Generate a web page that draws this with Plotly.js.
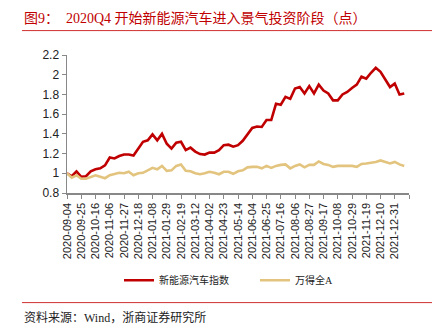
<!DOCTYPE html>
<html>
<head>
<meta charset="utf-8">
<script src="https://cdn.plot.ly/plotly-3.0.1.min.js"></script>
<style>
html,body{margin:0;padding:0;background:#fff;}
#chart{width:440px;height:332px;}
</style>
</head>
<body>
<div id="chart"></div>
<script>
const dates = [
"2020-09-04","2020-09-11","2020-09-18","2020-09-25","2020-10-02","2020-10-09","2020-10-16","2020-10-23","2020-10-30",
"2020-11-06","2020-11-13","2020-11-20","2020-11-27","2020-12-04","2020-12-11","2020-12-18","2020-12-25",
"2021-01-01","2021-01-08","2021-01-15","2021-01-22","2021-01-29","2021-02-05","2021-02-12","2021-02-19","2021-02-26",
"2021-03-05","2021-03-12","2021-03-19","2021-03-26","2021-04-02","2021-04-09","2021-04-16","2021-04-23","2021-04-30",
"2021-05-07","2021-05-14","2021-05-21","2021-05-28","2021-06-04","2021-06-11","2021-06-18","2021-06-25",
"2021-07-02","2021-07-09","2021-07-16","2021-07-23","2021-07-30","2021-08-06","2021-08-13","2021-08-20","2021-08-27",
"2021-09-03","2021-09-10","2021-09-17","2021-09-24","2021-10-01","2021-10-08","2021-10-15","2021-10-22","2021-10-29",
"2021-11-05","2021-11-12","2021-11-19","2021-11-26","2021-12-03","2021-12-10","2021-12-17","2021-12-24","2021-12-31",
"2022-01-07","2022-01-14"
];
const nevIndex = [
1.00,0.97,1.02,0.965,0.97,1.02,1.04,1.05,1.08,1.16,1.15,1.175,1.19,1.19,1.18,1.25,1.32,1.335,1.395,1.335,
1.40,1.30,1.25,1.31,1.32,1.235,1.26,1.22,1.195,1.19,1.21,1.21,1.235,1.285,1.29,1.27,1.285,1.33,1.40,1.46,
1.475,1.47,1.54,1.54,1.705,1.695,1.775,1.755,1.86,1.875,1.81,1.885,1.81,1.90,1.84,1.81,1.74,1.74,1.80,1.825,
1.865,1.90,1.98,1.96,2.02,2.07,2.03,1.95,1.875,1.91,1.80,1.81
];
const windA = [
1.00,0.955,0.98,0.945,0.945,0.965,0.98,0.965,0.95,0.98,0.99,1.005,1.00,1.015,0.98,1.00,1.005,1.03,1.055,1.04,
1.075,1.025,1.03,1.075,1.09,1.025,1.02,1.00,0.99,1.00,1.015,1.005,0.99,1.015,1.015,0.995,1.02,1.03,1.06,1.065,
1.065,1.05,1.075,1.055,1.075,1.085,1.09,1.05,1.075,1.09,1.06,1.085,1.085,1.12,1.095,1.085,1.065,1.075,1.075,1.075,
1.075,1.065,1.095,1.10,1.105,1.115,1.13,1.115,1.10,1.115,1.09,1.075
];
const tickDates = [
"2020-09-04","2020-09-25","2020-10-16","2020-11-06","2020-11-27","2020-12-18","2021-01-08","2021-01-29",
"2021-02-19","2021-03-12","2021-04-02","2021-04-23","2021-05-14","2021-06-04","2021-06-25","2021-07-16",
"2021-08-06","2021-08-27","2021-09-17","2021-10-08","2021-10-29","2021-11-19","2021-12-10","2021-12-31","2022-01-21"
];
const tickLabels = [
"2020-09-04","2020-09-25","2020-10-16","2020-11-06","2020-11-27","2020-12-18","2021-01-08","2021-01-29",
"2021-02-19","2021-03-12","2021-04-02","2021-04-23","2021-05-14","2021-06-04","2021-06-25","2021-07-16",
"2021-08-06","2021-08-27","2021-09-17","2021-10-08","2021-10-29","2021-11-19","2021-12-10","2021-12-31",""
];
const yTicks = [0.8,1,1.2,1.4,1.6,1.8,2,2.2];
const yTickText = ["0.8","1","1.2","1.4","1.6","1.8","2","2.2"];

const serifCJK = "Liberation Serif, Noto Sans CJK SC, serif";
const traces = [
  {x: dates, y: nevIndex, type:'scatter', mode:'lines', name:'新能源汽车指数',
   line:{color:'#c00000', width:2.6}},
  {x: dates, y: windA, type:'scatter', mode:'lines', name:'万得全A',
   line:{color:'#e3c47e', width:2.6}}
];
const W=342, H=138.5;
function px(x){return (x-67)/W;}
function py(y){return (193-y)/H;}
const layout = {
  width:440, height:332,
  margin:{l:67, r:31, t:54.5, b:138.5},
  paper_bgcolor:'#fff', plot_bgcolor:'#fff',
  showlegend:true,
  legend:{orientation:'h', x:px(119), y:py(266), xanchor:'left', yanchor:'top',
    font:{family:serifCJK, size:10, color:'#222'}, itemwidth:30, entrywidth:91, entrywidthmode:'pixels',
    tracegroupgap:0, bgcolor:'rgba(0,0,0,0)'},
  xaxis:{type:'date', range:['2020-09-04','2022-01-21'], tickmode:'array', tickvals:tickDates, ticktext:tickLabels,
    tickangle:-90, ticks:'outside', ticklen:4, tickcolor:'#888', tickwidth:1,
    showline:true, linecolor:'#888', linewidth:1.5, showgrid:false, zeroline:false,
    tickfont:{family:'Liberation Sans, Arial, sans-serif', size:11, color:'#222'}, fixedrange:true},
  yaxis:{range:[0.8,2.2], tickmode:'array', tickvals:yTicks, ticktext:yTickText,
    ticks:'outside', ticklen:4, tickcolor:'#888', tickwidth:1,
    showline:true, linecolor:'#888', linewidth:1.5, showgrid:false, zeroline:false,
    tickfont:{family:'Liberation Sans, Arial, sans-serif', size:12, color:'#222'}, fixedrange:true},
  shapes:[
    {type:'line', xref:'paper', yref:'paper', x0:px(22), x1:px(432), y0:py(30), y1:py(30), line:{color:'#d03030', width:1}},
    {type:'line', xref:'paper', yref:'paper', x0:px(22), x1:px(432), y0:py(303), y1:py(303), line:{color:'#d03030', width:1}}
  ],
  annotations:[
    {xref:'paper', yref:'paper', x:px(22), y:py(17), xanchor:'left', yanchor:'middle', showarrow:false,
     text:'图9：  2020Q4 开始新能源汽车进入景气投资阶段（点）', font:{family:serifCJK, size:14, color:'#c00000'}},
    {xref:'paper', yref:'paper', x:px(22), y:py(318), xanchor:'left', yanchor:'middle', showarrow:false,
     text:'资料来源：Wind，浙商证券研究所', font:{family:serifCJK, size:12, color:'#222'}}
  ]
};
Plotly.newPlot('chart', traces, layout, {displayModeBar:false, staticPlot:true});
</script>
</body>
</html>
